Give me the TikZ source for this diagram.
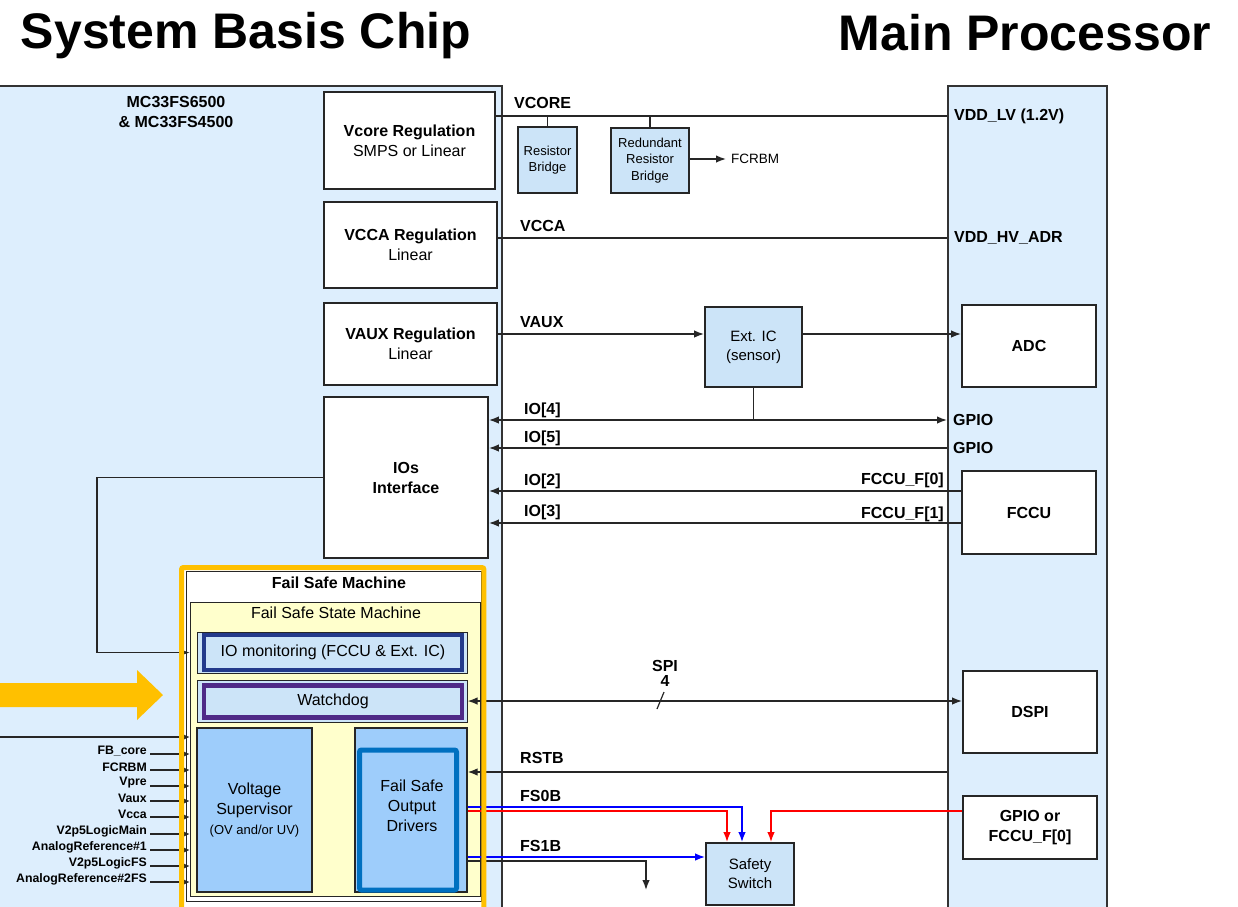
\documentclass[tikz,border=0pt]{standalone}
\usepackage{fontspec}
\setmainfont{Liberation Sans}
\usetikzlibrary{arrows.meta,calc}
\definecolor{sbcblue}{HTML}{DDEEFD}
\definecolor{lblue}{HTML}{CCE4F8}
\definecolor{mblue}{HTML}{9ECDFB}
\definecolor{fsyellow}{HTML}{FFFFCC}
\definecolor{gold}{HTML}{FFC000}
\definecolor{iomblue}{HTML}{233A8B}
\definecolor{wdpurple}{HTML}{4F2A87}
\definecolor{fsodblue}{HTML}{0070C0}
\definecolor{sred}{HTML}{FF0000}
\definecolor{sblue}{HTML}{0000FF}
\begin{document}
\begin{tikzpicture}[x=1pt,y=-1pt,
  t/.style={font=\fontsize{16}{20}\selectfont, inner sep=0pt, align=center},
  tb/.style={font=\bfseries\fontsize{16}{20}\selectfont, inner sep=0pt, align=center},
  tsm/.style={font=\fontsize{13}{16.5}\selectfont, inner sep=0pt, align=center},
  ts/.style={font=\bfseries\fontsize{12.3}{14}\selectfont, inner sep=0pt},
  wbox/.style={draw=black!85, line width=1.8pt, fill=white, inner sep=0pt, align=center},
  bbox/.style={wbox, fill=lblue},
  ln/.style={draw=black!85, line width=1.5pt},
  arr/.style={ln, -{Latex[length=10pt,width=7.5pt]}},
  darr/.style={ln, {Latex[length=10pt,width=7.5pt]}-{Latex[length=10pt,width=7.5pt]}},
  sarr/.style={draw=black!85, line width=1.2pt, -{Latex[length=6pt,width=5pt]}},
  barr/.style={draw=sblue, line width=1.5pt, -{Latex[length=10pt,width=7.5pt]}},
  rarr/.style={draw=sred, line width=1.5pt, -{Latex[length=10pt,width=7.5pt]}},
]
\useasboundingbox (0,0) rectangle (1238,906);
\fill[white] (0,0) rectangle (1238,906);

% titles
\node[font=\bfseries\fontsize{50}{55}\selectfont, inner sep=0pt, anchor=base] (t1) at (246,48) {System Basis Chip};
\node[font=\bfseries\fontsize{50}{55}\selectfont, inner sep=0pt, anchor=base] (t2) at (1025,50) {Main Processor};

% chip outlines
\node[draw=black!80, line width=1.5pt, fill=sbcblue, minimum width=504pt, minimum height=835pt, anchor=north west, inner sep=0pt] (sbc) at (-3,85) {};
\node[draw=black!80, line width=1.5pt, fill=sbcblue, minimum width=159pt, minimum height=835pt, anchor=north west, inner sep=0pt] (mp) at (947,85) {};
\node[tb] (mc) at (176,112) {MC33FS6500\\\& MC33FS4500};

% SBC blocks
\node[wbox, t, minimum width=171pt, minimum height=97pt] (vcore) at (409.5,140.5) {\textbf{Vcore Regulation}\\SMPS or Linear};
\node[wbox, t, minimum width=173pt, minimum height=86pt] (vcca) at (410.5,245) {\textbf{VCCA Regulation}\\Linear};
\node[wbox, t, minimum width=173pt, minimum height=82pt] (vaux) at (410.5,344) {\textbf{VAUX Regulation}\\Linear};
\node[wbox, tb, minimum width=164pt, minimum height=161pt] (ios) at (406,477.5) {IOs\\Interface};

% middle blocks
\node[bbox, tsm, minimum width=59pt, minimum height=66pt] (rb) at (547.5,160) {Resistor\\Bridge};
\node[bbox, tsm, minimum width=78pt, minimum height=65pt] (rrb) at (650,160.5) {Redundant\\Resistor\\Bridge};
\node[font=\fontsize{13.5}{16}\selectfont, inner sep=0pt, anchor=west] (fcrbm) at (731,159) {FCRBM};
\node[bbox, font=\fontsize{15}{19}\selectfont, minimum width=97pt, minimum height=80pt] (extic) at (753.5,347) {Ext. IC\\(sensor)};
\node[bbox, font=\fontsize{15}{19}\selectfont, minimum width=88pt, minimum height=62pt] (ss) at (750,874) {Safety\\Switch};

% processor blocks
\node[wbox, tb, minimum width=134pt, minimum height=82pt] (adc) at (1029,346) {ADC};
\node[wbox, tb, minimum width=134pt, minimum height=83pt] (fccu) at (1029,512.5) {FCCU};
\node[wbox, tb, minimum width=134pt, minimum height=82pt] (dspi) at (1030,712) {DSPI};
\node[wbox, tb, minimum width=134pt, minimum height=63pt] (gpiob) at (1030,827.5) {GPIO or\\FCCU\_F[0]};

% processor pin labels
\node[tb, anchor=west] (vddlv) at (954,116) {VDD\_LV (1.2V)};
\node[tb, anchor=west] (vddhv) at (954,238) {VDD\_HV\_ADR};
\node[tb, anchor=west] (gpio1) at (953,420) {GPIO};
\node[tb, anchor=west] (gpio2) at (953,448) {GPIO};

% signal labels
\node[tb, anchor=west] (lvcore) at (514,103) {VCORE};
\node[tb, anchor=west] (lvcca) at (520,226) {VCCA};
\node[tb, anchor=west] (lvaux) at (520,322) {VAUX};
\node[tb, anchor=west] (lio4) at (524,410) {IO[4]};
\node[tb, anchor=west] (lio5) at (524,438) {IO[5]};
\node[tb, anchor=west] (lio2) at (524,481) {IO[2]};
\node[tb, anchor=west] (lio3) at (524,512) {IO[3]};
\node[tb, anchor=east] (lf0) at (944,480) {FCCU\_F[0]};
\node[tb, anchor=east] (lf1) at (944,514) {FCCU\_F[1]};
\node[tb] (lspi) at (665,666) {SPI};
\node[tb] (lspin) at (665,681) {4};
\node[tb, anchor=west] (lrstb) at (520,758) {RSTB};
\node[tb, anchor=west] (lfs0b) at (520,796) {FS0B};
\node[tb, anchor=west] (lfs1b) at (520,846) {FS1B};

% power lines
\draw[ln] (vcore.east |- vddlv.west) -- (mp.west |- vddlv.west);
\draw[ln] (rb.north) -- (rb.north |- vddlv.west);
\draw[ln] (rrb.north) -- (rrb.north |- vddlv.west);
\draw[arr, shorten >=5pt] (rrb.east |- fcrbm.west) -- (fcrbm.west);
\draw[ln] (vcca.east |- vddhv.west) -- (mp.west |- vddhv.west);
\coordinate (vauxin) at ([yshift=13pt]extic.west);
\draw[arr] (vaux.east |- vauxin) -- (vauxin);
\draw[arr] (extic.east |- vauxin) -- (adc.west |- vauxin);

% IO lines
\draw[ln] (extic.south) -- (extic.south |- gpio1.west);
\draw[darr] (ios.east |- gpio1.west) -- (mp.west |- gpio1.west);
\draw[arr] (mp.west |- gpio2.west) -- (ios.east |- gpio2.west);
\coordinate (f0) at ([yshift=21.5pt]fccu.west);
\coordinate (f1) at ([yshift=-10.5pt]fccu.west);
\draw[arr] (f0) -- (ios.east |- f0);
\draw[arr] (f1) -- (ios.east |- f1);

% Fail safe machine
\node[fill=white, minimum width=303pt, minimum height=350pt, anchor=north west, inner sep=0pt] (fsm) at (181,567) {};
\draw[black!85, line width=1pt] (186,571) rectangle (481,901);
\node[tb] (fsmt) at (339,583) {Fail Safe Machine};
\node[draw=black!85, line width=1.2pt, fill=fsyellow, anchor=north west, minimum width=290pt, minimum height=294pt, inner sep=0pt] (fssm) at (190,602) {};
\node[t] (fssmt) at (336,613) {Fail Safe State Machine};
\node[draw=black!85, line width=1pt, fill=lblue, minimum width=270pt, minimum height=41pt, inner sep=0pt] (iomo) at (332,652.5) {};
\node[draw=iomblue, line width=4.5pt, fill=lblue, minimum width=258pt, minimum height=35pt, inner sep=0pt, t] (iom) at (333,652.5) {IO monitoring (FCCU \& Ext. IC)};
\node[draw=black!85, line width=1pt, fill=lblue, minimum width=270pt, minimum height=42pt, inner sep=0pt] (wdo) at (332,701) {};
\node[draw=wdpurple, line width=4.5pt, fill=lblue, minimum width=258pt, minimum height=32pt, inner sep=0pt, t] (wd) at (333,701.5) {Watchdog};
\node[draw=black!85, line width=1.2pt, fill=mblue, minimum width=115pt, minimum height=164pt, inner sep=0pt, t] (vs) at (254.5,810) {Voltage\\Supervisor\\{\fontsize{13}{16}\selectfont(OV and/or UV)}};
\node[draw=black!85, line width=1.2pt, fill=mblue, minimum width=112pt, minimum height=164pt, inner sep=0pt] (fsodo) at (411,810) {};
\node[draw=fsodblue, line width=5pt, fill=mblue, rounded corners=2pt, minimum width=97pt, minimum height=140pt, inner sep=0pt] (fsod) at (408,820) {};
\node[t] (fsodt) at (412,806) {Fail Safe\\Output\\Drivers};

% IOs -> IO monitoring
\coordinate (iox) at (97,560);
\draw[arr] (ios.west) -| (iox) |- (fssm.west |- iom.west);

% inputs
\coordinate (in0) at (0,737);
\draw[sarr] (in0) -- (fssm.west |- in0);
\foreach \yy/\lab [count=\i] in {754/FB\_core, 770/FCRBM, 786/Vpre, 801/Vaux, 817/Vcca, 834/V2p5LogicMain, 850/AnalogReference\#1, 866/V2p5LogicFS, 882/AnalogReference\#2FS} {
  \coordinate (in\i) at (150,\yy);
  \node[ts, anchor=east] (inl\i) at ([xshift=-3pt,yshift=3pt]in\i) {\lab};
  \draw[sarr] (in\i) -- (fssm.west |- in\i);
}

% SPI
\draw[darr] (wdo.east) -- (dspi.west |- wdo.east);
\draw[black!85, line width=1.2pt] (657,709) -- (664,692);

% RSTB and fail-safe outputs
\coordinate (yrst) at (0,772);
\coordinate (yb0) at (0,807);
\coordinate (yr0) at (0,811);
\coordinate (yb1) at (0,857);
\coordinate (yk) at (0,861);
\coordinate (kend) at (646,890);
\draw[arr] (mp.west |- yrst) -- (fsodo.east |- yrst);
\draw[barr] (fsodo.east |- yb0) -| ([xshift=-8pt]ss.north);
\draw[rarr] (fsodo.east |- yr0) -| ([xshift=-23pt]ss.north);
\draw[rarr] (gpiob.west |- yr0) -| ([xshift=21pt]ss.north);
\draw[barr] (fsodo.east |- yb1) -- (ss.west |- yb1);
\draw[arr] (fsodo.east |- yk) -| (kend);

% gold border of fail safe machine
\draw[gold, line width=5pt, rounded corners=2pt] ([shift={(0.5pt,-0.5pt)}]fsm.north west) rectangle ([shift={(-0.5pt,-10pt)}]fsm.south east);

% big yellow arrow
\fill[gold] (0,683) -- (137,683) -- (137,670) -- (163,695) -- (137,720) -- (137,707) -- (0,707) -- cycle;
\end{tikzpicture}
\end{document}
